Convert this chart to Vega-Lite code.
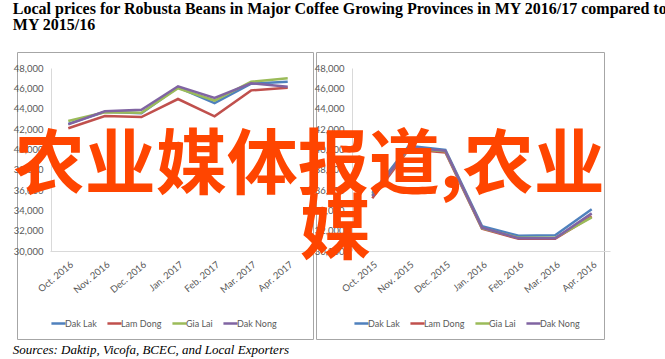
{
  "$schema": "https://vega.github.io/schema/vega-lite/v6.json",
  "padding": {"left": 12, "top": 0, "right": 0, "bottom": 0},
  "background": "white",
  "title": {
    "text": ["Local prices for Robusta Beans in Major Coffee Growing Provinces in MY 2016/17 compared to", "MY 2015/16"],
    "anchor": "start",
    "font": "Liberation Serif",
    "fontSize": 16,
    "fontWeight": "bold",
    "color": "#000000",
    "lineHeight": 16,
    "offset": 19
  },
  "config": {
    "view": {"stroke": "#a6a6a6", "strokeWidth": 1},
    "axis": {
      "grid": false,
      "ticks": false,
      "domainColor": "#d9d9d9",
      "labelFont": "Lato",
      "labelFontSize": 9.5,
      "labelColor": "#595959",
      "labelOverlap": false,
      "title": null
    },
    "legend": {
      "orient": "none",
      "direction": "horizontal",
      "title": null,
      "padding": 0,
      "symbolType": "stroke",
      "symbolSize": 200,
      "symbolStrokeWidth": 2.5,
      "labelFont": "Lato",
      "labelFontSize": 9,
      "labelColor": "#595959",
      "labelOffset": -2,
      "columnPadding": 5,
      "gridAlign": "none"
    }
  },
  "datasets": {
    "y1617": [
      {"month": "Oct. 2016", "province": "Dak Lak", "price": 42500},
      {"month": "Oct. 2016", "province": "Lam Dong", "price": 42070},
      {"month": "Oct. 2016", "province": "Gia Lai", "price": 42780},
      {"month": "Oct. 2016", "province": "Dak Nong", "price": 42450},
      {"month": "Nov. 2016", "province": "Dak Lak", "price": 43700},
      {"month": "Nov. 2016", "province": "Lam Dong", "price": 43280},
      {"month": "Nov. 2016", "province": "Gia Lai", "price": 43650},
      {"month": "Nov. 2016", "province": "Dak Nong", "price": 43750},
      {"month": "Dec. 2016", "province": "Dak Lak", "price": 43550},
      {"month": "Dec. 2016", "province": "Lam Dong", "price": 43180},
      {"month": "Dec. 2016", "province": "Gia Lai", "price": 43600},
      {"month": "Dec. 2016", "province": "Dak Nong", "price": 43900},
      {"month": "Jan. 2017", "province": "Dak Lak", "price": 46100},
      {"month": "Jan. 2017", "province": "Lam Dong", "price": 44950},
      {"month": "Jan. 2017", "province": "Gia Lai", "price": 46000},
      {"month": "Jan. 2017", "province": "Dak Nong", "price": 46200},
      {"month": "Feb. 2017", "province": "Dak Lak", "price": 44550},
      {"month": "Feb. 2017", "province": "Lam Dong", "price": 43250},
      {"month": "Feb. 2017", "province": "Gia Lai", "price": 44800},
      {"month": "Feb. 2017", "province": "Dak Nong", "price": 45050},
      {"month": "Mar. 2017", "province": "Dak Lak", "price": 46450},
      {"month": "Mar. 2017", "province": "Lam Dong", "price": 45800},
      {"month": "Mar. 2017", "province": "Gia Lai", "price": 46650},
      {"month": "Mar. 2017", "province": "Dak Nong", "price": 46500},
      {"month": "Apr. 2017", "province": "Dak Lak", "price": 46650},
      {"month": "Apr. 2017", "province": "Lam Dong", "price": 46050},
      {"month": "Apr. 2017", "province": "Gia Lai", "price": 47000},
      {"month": "Apr. 2017", "province": "Dak Nong", "price": 46150}
    ],
    "y1516": [
      {"month": "Oct. 2015", "province": "Dak Lak", "price": 35700},
      {"month": "Oct. 2015", "province": "Lam Dong", "price": 35200},
      {"month": "Oct. 2015", "province": "Gia Lai", "price": 35500},
      {"month": "Oct. 2015", "province": "Dak Nong", "price": 35400},
      {"month": "Nov. 2015", "province": "Dak Lak", "price": 40350},
      {"month": "Nov. 2015", "province": "Lam Dong", "price": 40000},
      {"month": "Nov. 2015", "province": "Gia Lai", "price": 40100},
      {"month": "Nov. 2015", "province": "Dak Nong", "price": 40200},
      {"month": "Dec. 2015", "province": "Dak Lak", "price": 39950},
      {"month": "Dec. 2015", "province": "Lam Dong", "price": 39700},
      {"month": "Dec. 2015", "province": "Gia Lai", "price": 39800},
      {"month": "Dec. 2015", "province": "Dak Nong", "price": 39850},
      {"month": "Jan. 2016", "province": "Dak Lak", "price": 32450},
      {"month": "Jan. 2016", "province": "Lam Dong", "price": 32200},
      {"month": "Jan. 2016", "province": "Gia Lai", "price": 32250},
      {"month": "Jan. 2016", "province": "Dak Nong", "price": 32300},
      {"month": "Feb. 2016", "province": "Dak Lak", "price": 31500},
      {"month": "Feb. 2016", "province": "Lam Dong", "price": 31200},
      {"month": "Feb. 2016", "province": "Gia Lai", "price": 31300},
      {"month": "Feb. 2016", "province": "Dak Nong", "price": 31250},
      {"month": "Mar. 2016", "province": "Dak Lak", "price": 31550},
      {"month": "Mar. 2016", "province": "Lam Dong", "price": 31200},
      {"month": "Mar. 2016", "province": "Gia Lai", "price": 31300},
      {"month": "Mar. 2016", "province": "Dak Nong", "price": 31250},
      {"month": "Apr. 2016", "province": "Dak Lak", "price": 34100},
      {"month": "Apr. 2016", "province": "Lam Dong", "price": 33400},
      {"month": "Apr. 2016", "province": "Gia Lai", "price": 33300},
      {"month": "Apr. 2016", "province": "Dak Nong", "price": 33700}
    ]
  },
  "vconcat": [
    {
      "title": {
        "text": "Sources: Daktip, Vicofa, BCEC, and Local Exporters",
        "orient": "bottom",
        "anchor": "start",
        "font": "Liberation Serif",
        "fontSize": 13,
        "fontStyle": "italic",
        "fontWeight": "normal",
        "color": "#000000",
        "offset": 4
      },
      "bounds": "flush",
      "spacing": 3,
      "resolve": {"scale": {"color": "independent", "x": "independent", "y": "independent"}, "legend": {"color": "independent"}},
      "hconcat": [
        {
          "width": 296,
          "height": 287,
          "data": {"name": "y1617"},
          "mark": {"type": "line", "strokeWidth": 2.5},
          "encoding": {
            "x": {
              "field": "month", "type": "ordinal",
              "sort": ["Oct. 2016", "Nov. 2016", "Dec. 2016", "Jan. 2017", "Feb. 2017", "Mar. 2017", "Apr. 2017"],
              "scale": {"type": "point", "range": [33, 289], "padding": 0.5},
              "axis": {"offset": -88, "labelAngle": -40, "labelPadding": 8}
            },
            "y": {
              "field": "price", "type": "quantitative",
              "scale": {"domain": [30000, 48000], "range": [199, 16], "nice": false, "zero": false},
              "axis": {"offset": -34, "values": [30000, 32000, 34000, 36000, 38000, 40000, 42000, 44000, 46000, 48000], "format": ",.0f", "labelPadding": 8}
            },
            "color": {
              "field": "province", "type": "nominal",
              "scale": {"domain": ["Dak Lak", "Lam Dong", "Gia Lai", "Dak Nong"], "range": ["#4F81BD", "#C0504D", "#9BBB59", "#8064A2"]},
              "legend": {"legendX": 33, "legendY": 263}
            }
          }
        },
        {
          "width": 288,
          "height": 287,
          "layer": [
            {
              "data": {"name": "y1516"},
              "mark": {"type": "line", "strokeWidth": 2.5},
              "encoding": {
                "x": {
                  "field": "month", "type": "ordinal",
                  "sort": ["Oct. 2015", "Nov. 2015", "Dec. 2015", "Jan. 2016", "Feb. 2016", "Mar. 2016", "Apr. 2016"],
                  "scale": {"type": "point", "range": [38, 294], "padding": 0.5},
                  "axis": {"offset": -88, "labelAngle": -40, "labelPadding": 8}
                },
                "y": {
                  "field": "price", "type": "quantitative",
                  "scale": {"domain": [30000, 48000], "range": [199, 16], "nice": false, "zero": false},
                  "axis": {"offset": -36, "values": [30000, 32000, 34000, 36000, 38000, 40000, 42000, 44000, 46000, 48000], "format": ",.0f", "labelPadding": 8}
                },
                "color": {
                  "field": "province", "type": "nominal",
                  "scale": {"domain": ["Dak Lak", "Lam Dong", "Gia Lai", "Dak Nong"], "range": ["#4F81BD", "#C0504D", "#9BBB59", "#8064A2"]},
                  "legend": {"legendX": 37, "legendY": 263}
                }
              }
            },
            {
              "data": {"values": [{"label": "农业媒体报道,农业"}]},
              "mark": {"type": "text", "font": "Noto Sans CJK SC", "fontSize": 71, "fontWeight": "bold", "color": "#FF4500", "align": "right", "baseline": "middle", "dx": 13},
              "encoding": {
                "text": {"field": "label", "type": "nominal"},
                "x": {"datum": "Apr. 2016", "type": "ordinal", "axis": {"offset": -88, "labelAngle": -40, "labelPadding": 8}},
                "y": {"datum": 38300, "type": "quantitative", "axis": {"offset": -36, "values": [30000, 32000, 34000, 36000, 38000, 40000, 42000, 44000, 46000, 48000], "format": ",.0f", "labelPadding": 8}}
              }
            },
            {
              "data": {"values": [{"label": "媒"}]},
              "mark": {"type": "text", "font": "Noto Sans CJK SC", "fontSize": 71, "fontWeight": "bold", "color": "#FF4500", "align": "center", "baseline": "middle", "dx": -37},
              "encoding": {
                "text": {"field": "label", "type": "nominal"},
                "x": {"datum": "Oct. 2015", "type": "ordinal", "axis": {"offset": -88, "labelAngle": -40, "labelPadding": 8}},
                "y": {"datum": 31900, "type": "quantitative", "axis": {"offset": -36, "values": [30000, 32000, 34000, 36000, 38000, 40000, 42000, 44000, 46000, 48000], "format": ",.0f", "labelPadding": 8}}
              }
            }
          ]
        }
      ]
    }
  ]
}
